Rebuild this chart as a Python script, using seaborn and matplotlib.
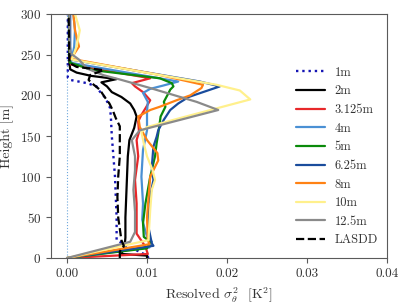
import pandas as pd
import matplotlib
matplotlib.use("Agg")
import matplotlib.pyplot as plt
import seaborn as sns

# -----------------------------
# Profile data (height [m], resolved variance [K^2])
# -----------------------------
h_1m = [0, 3, 8, 15, 22, 50, 75, 100, 125, 150, 170, 184, 197, 207, 211, 215, 219, 222, 240, 260, 280, 300]
v_1m = [0.0102, 0.0100, 0.0090, 0.0075, 0.0062, 0.0062, 0.0061, 0.0060, 0.0058, 0.0056, 0.0055,
        0.0054, 0.0048, 0.0039, 0.0037, 0.0025, 0.0004, 0.0001, 0.0001, 0.0001, 0.0001, 0.0001]

h_2m = [0, 3, 5, 15, 25, 50, 75, 100, 125, 145, 160, 174, 182, 190, 198, 204, 211, 216, 220, 224,
        228, 232, 240, 300]
v_2m = [0.0100, 0.0100, 0.0068, 0.0072, 0.0073, 0.0073, 0.0074, 0.0075, 0.0076, 0.0078, 0.0084,
        0.0087, 0.0084, 0.0079, 0.0068, 0.0056, 0.0050, 0.0043, 0.0062, 0.0030, 0.0012, 0.0004,
        0.0003, 0.0003]

h_3m = [0, 5, 14, 30, 67, 96, 125, 145, 155, 168, 176, 184, 194, 204, 211, 215, 221, 238, 260, 300]
v_3m = [0.0, 0.0101, 0.0098, 0.0087, 0.0087, 0.0085, 0.0089, 0.0087, 0.0090, 0.0089, 0.0093,
        0.0098, 0.0104, 0.0095, 0.0085, 0.0081, 0.0104, 0.0005, 0.0003, 0.0003]

h_4m = [0, 13, 20, 26, 47, 67, 100, 133, 157, 180, 192, 203, 208, 212, 217, 240, 260, 280, 300]
v_4m = [0.0, 0.0103, 0.0106, 0.0100, 0.0094, 0.0095, 0.0093, 0.0095, 0.0100, 0.0100, 0.0101,
        0.0095, 0.0104, 0.0120, 0.0139, 0.0005, 0.0009, 0.0010, 0.0008]

h_5m = [0, 12, 20, 26, 43, 67, 100, 125, 141, 153, 174, 186, 192, 203, 207, 211, 215, 221, 231,
        240, 260, 300]
v_5m = [0.0, 0.0100, 0.0104, 0.0096, 0.0095, 0.0098, 0.0104, 0.0110, 0.0112, 0.0114, 0.0117,
        0.0123, 0.0121, 0.0127, 0.0129, 0.0133, 0.0131, 0.0116, 0.0033, 0.0004, 0.0003, 0.0003]

h_6m = [0, 15, 18, 37, 67, 96, 112, 137, 149, 157, 170, 182, 190, 198, 211, 217, 244, 260, 300]
v_6m = [0.0, 0.0108, 0.0106, 0.0102, 0.0102, 0.0108, 0.0106, 0.0108, 0.0112, 0.0114, 0.0121,
        0.0129, 0.0139, 0.0152, 0.0191, 0.0166, 0.0005, 0.0004, 0.0004]

h_8m = [0, 17, 22, 50, 100, 108, 120, 129, 145, 161, 174, 182, 186, 194, 200, 209, 213, 225, 245,
        260, 280, 300]
v_8m = [0.0, 0.0103, 0.0101, 0.0100, 0.0104, 0.0108, 0.0114, 0.0113, 0.0100, 0.0091, 0.0089,
        0.0104, 0.0116, 0.0137, 0.0154, 0.0168, 0.0170, 0.0116, 0.0005, 0.0015, 0.0010, 0.0008]

h_10m = [0, 22, 26, 59, 84, 96, 108, 125, 141, 155, 161, 172, 184, 195, 206, 213, 225, 244, 260,
         280, 300]
v_10m = [0.0, 0.0102, 0.0102, 0.0104, 0.0106, 0.0110, 0.0107, 0.0100, 0.0096, 0.0093, 0.0100,
         0.0141, 0.0187, 0.0229, 0.0216, 0.0187, 0.0116, 0.0006, 0.0012, 0.0016, 0.0010]

h_12m = [0, 20, 32, 57, 84, 108, 125, 145, 157, 182, 192, 209, 219, 225, 233, 244, 252, 270, 300]
v_12m = [0.0, 0.0079, 0.0085, 0.0085, 0.0083, 0.0085, 0.0085, 0.0081, 0.0091, 0.0189, 0.0162,
         0.0104, 0.0068, 0.0045, 0.0025, 0.0015, 0.0004, 0.0003, 0.0003]

h_lasdd = [0, 8, 15, 22, 50, 75, 100, 125, 150, 162, 172, 182, 190, 198, 207, 215, 219, 225, 231,
           235, 240, 300]
v_lasdd = [0.0066, 0.0066, 0.0071, 0.0068, 0.0064, 0.0063, 0.0064, 0.0066, 0.0066, 0.0066, 0.0061,
           0.0057, 0.0053, 0.0047, 0.0041, 0.0031, 0.0027, 0.0029, 0.0046, 0.0012, 0.0003, 0.0002]

# thin reference line at zero
h_zero = [0, 300]
v_zero = [0.0, 0.0]

labels = ["1m", "2m", "3.125m", "4m", "5m", "6.25m", "8m", "10m", "12.5m", "LASDD"]
heights = [h_1m, h_2m, h_3m, h_4m, h_5m, h_6m, h_8m, h_10m, h_12m, h_lasdd]
values = [v_1m, v_2m, v_3m, v_4m, v_5m, v_6m, v_8m, v_10m, v_12m, v_lasdd]

colors = ["#1414b4", "black", "#e8282a", "#4a90d4", "#0a8a0a", "#1a4c9c",
          "#ff8214", "#fff08c", "#8a8a8a", "black"]
styles = [":", "-", "-", "-", "-", "-", "-", "-", "-", "--"]

# -----------------------------
# Style
# -----------------------------
sns.set_style("white")
plt.rcParams["font.family"] = ["cmr10", "DejaVu Serif"]
plt.rcParams["mathtext.fontset"] = "cm"
plt.rcParams["axes.formatter.use_mathtext"] = True
plt.rcParams["axes.edgecolor"] = "#5a5a5a"
plt.rcParams["xtick.color"] = "#5a5a5a"
plt.rcParams["ytick.color"] = "#5a5a5a"
plt.rcParams["xtick.labelcolor"] = "#333333"
plt.rcParams["ytick.labelcolor"] = "#333333"
plt.rcParams["xtick.bottom"] = True
plt.rcParams["ytick.left"] = True

fig = plt.figure(figsize=(4.07, 3.05), dpi=100)
ax = fig.add_axes([0.1253, 0.154, 0.8257, 0.800])

# -----------------------------
# Plot profiles
# -----------------------------
sns.lineplot(x=v_zero, y=h_zero, orient="y", sort=False, estimator=None,
             color="#6fa8dc", linestyle=":", linewidth=0.8, ax=ax)

for lab, hh, vv, col, ls in zip(labels, heights, values, colors, styles):
    df = pd.DataFrame({"value": vv, "height": hh})
    lw = 1.6 if lab != "1m" else 1.7
    sns.lineplot(data=df, x="value", y="height", orient="y", sort=False, estimator=None,
                 color=col, linestyle=ls, linewidth=lw, label=lab, ax=ax)

ax.set_xlim(-0.002, 0.04)
ax.set_ylim(0, 300)
ax.set_xticks([0.0, 0.01, 0.02, 0.03, 0.04])
ax.set_xticklabels(["0.00", "0.01", "0.02", "0.03", "0.04"])
ax.set_yticks([0, 50, 100, 150, 200, 250, 300])
ax.tick_params(labelsize=9.5, length=3.5, width=0.8)
ax.set_xlabel(r"Resolved $\sigma_\theta^2$  [K$^2$]", fontsize=10, color="#333333")
ax.set_ylabel("Height [m]", fontsize=10, color="#333333")

leg = ax.legend(loc="center left", bbox_to_anchor=(0.695, 0.416), frameon=False,
                fontsize=9, handlelength=2.3, labelspacing=0.52, handletextpad=0.8)
for t in leg.get_texts():
    t.set_color("#333333")

fig.savefig("out.png", dpi=100)
